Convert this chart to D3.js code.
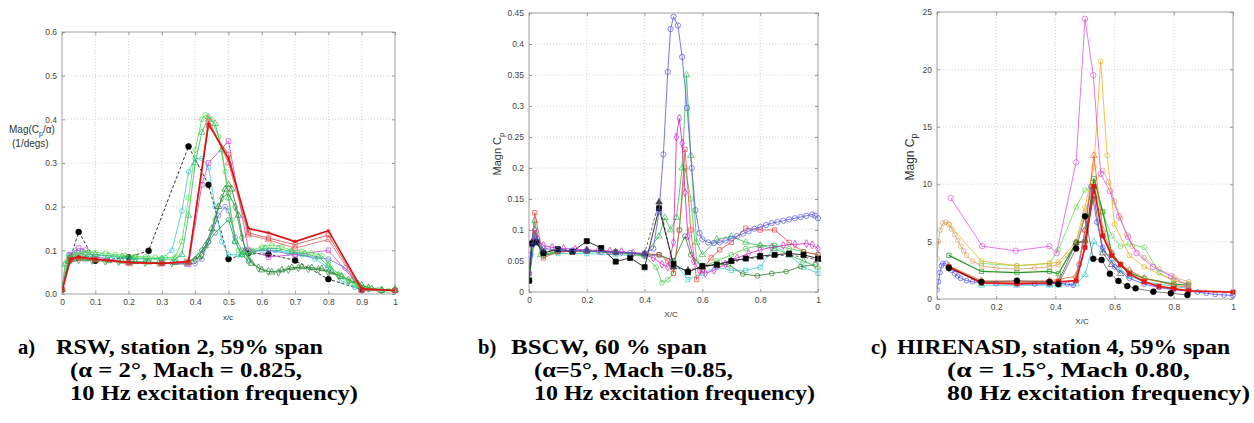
<!DOCTYPE html>
<html lang="en">
<head>
<meta charset="UTF-8">
<title>Cp magnitude</title>
<style>
  body { margin: 0; background: #fff; }
  .tick text { font-family: "Liberation Sans", Arial, sans-serif; font-size: 8.5px; fill: #444; }
  .cap { font-family: "Liberation Serif", "Times New Roman", serif; font-weight: bold; font-size: 20.5px; fill: #000; }
  .lab { font-family: "Liberation Sans", Arial, sans-serif; fill: #333; }
</style>
</head>
<body>
<svg id="svg" width="1254" height="423"></svg>
<script src="https://d3js.org/d3.v7.min.js"></script>
<script>
// tick values
const ticksA_x = [0, 0.1, 0.2, 0.3, 0.4, 0.5, 0.6, 0.7, 0.8, 0.9, 1]
const ticksA_y = [0, 0.1, 0.2, 0.3, 0.4, 0.5, 0.6]
const ticksB_x = [0, 0.2, 0.4, 0.6, 0.8, 1]
const ticksB_y = [0, 0.05, 0.1, 0.15, 0.2, 0.25, 0.3, 0.35, 0.4, 0.45]
const ticksC_x = [0, 0.2, 0.4, 0.6, 0.8, 1]
const ticksC_y = [0, 5, 10, 15, 20, 25]

// a) RSW
const rswBlack = [[0,0.01],[0.025,0.082],[0.05,0.142],[0.1,0.076],[0.2,0.084],[0.26,0.099],[0.38,0.338],[0.44,0.25],[0.5,0.08],[0.56,0.094],[0.62,0.091],[0.7,0.077],[0.8,0.034],[0.9,0.01]]
const rswRed1 = [[0,0.005],[0.025,0.08],[0.05,0.085],[0.1,0.08],[0.2,0.072],[0.3,0.07],[0.38,0.075],[0.44,0.39],[0.5,0.31],[0.56,0.15],[0.62,0.14],[0.7,0.12],[0.8,0.145],[0.9,0.012],[1,0.008]]
const rswRed2 = [[0,0.01],[0.025,0.078],[0.05,0.082],[0.1,0.078],[0.2,0.071],[0.3,0.07],[0.38,0.073],[0.44,0.385],[0.5,0.32],[0.56,0.14],[0.62,0.128],[0.7,0.113],[0.8,0.135],[0.9,0.01],[1,0.008]]
const rswRed3 = [[0,0.01],[0.025,0.08],[0.05,0.084],[0.1,0.079],[0.2,0.072],[0.3,0.07],[0.38,0.072],[0.44,0.4],[0.5,0.3],[0.56,0.135],[0.62,0.124],[0.7,0.105],[0.8,0.125],[0.9,0.008],[1,0.008]]
const rswMagenta = [[0,0.01],[0.025,0.09],[0.05,0.105],[0.07,0.1],[0.1,0.085],[0.2,0.072],[0.3,0.07],[0.38,0.068],[0.42,0.25],[0.44,0.3],[0.5,0.35],[0.56,0.1],[0.62,0.085],[0.7,0.09],[0.8,0.1],[0.9,0.012],[1,0.008]]
const rswPurple = [[0,0.01],[0.025,0.088],[0.05,0.095],[0.1,0.08],[0.2,0.072],[0.3,0.07],[0.38,0.07],[0.4,0.07],[0.42,0.08],[0.44,0.12],[0.47,0.18],[0.49,0.2],[0.5,0.19],[0.52,0.13],[0.54,0.1],[0.56,0.1],[0.62,0.1],[0.7,0.09],[0.8,0.08],[0.85,0.06],[0.9,0.015],[1,0.008]]
const rswGreen = [[0,0.01],[0.01,0.07],[0.02,0.085],[0.04,0.09],[0.06,0.095],[0.08,0.096],[0.1,0.095],[0.13,0.093],[0.16,0.09],[0.19,0.088],[0.22,0.086],[0.25,0.085],[0.28,0.084],[0.31,0.083],[0.34,0.085],[0.36,0.12],[0.38,0.22],[0.4,0.33],[0.42,0.4],[0.43,0.41],[0.45,0.4],[0.47,0.36],[0.49,0.28],[0.51,0.17],[0.53,0.1],[0.55,0.09],[0.57,0.1],[0.6,0.108],[0.63,0.112],[0.66,0.108],[0.69,0.1],[0.72,0.098],[0.75,0.094],[0.78,0.088],[0.8,0.07],[0.83,0.045],[0.86,0.03],[0.89,0.02],[0.92,0.014],[0.95,0.01],[0.98,0.008],[1,0.01]]
const rswGreen2 = [[0,0.01],[0.01,0.068],[0.02,0.082],[0.04,0.088],[0.07,0.09],[0.1,0.09],[0.14,0.088],[0.18,0.086],[0.22,0.083],[0.26,0.081],[0.3,0.08],[0.34,0.08],[0.36,0.09],[0.38,0.18],[0.4,0.3],[0.42,0.37],[0.44,0.405],[0.46,0.39],[0.48,0.33],[0.5,0.22],[0.52,0.12],[0.54,0.09],[0.57,0.095],[0.61,0.105],[0.65,0.104],[0.69,0.097],[0.73,0.092],[0.77,0.085],[0.8,0.065],[0.84,0.04],[0.88,0.022],[0.92,0.012],[0.96,0.009],[1,0.01]]
const rswCyan = [[0,0.01],[0.02,0.09],[0.04,0.1],[0.06,0.098],[0.09,0.09],[0.12,0.088],[0.16,0.085],[0.2,0.082],[0.25,0.08],[0.3,0.082],[0.33,0.1],[0.36,0.19],[0.38,0.28],[0.4,0.31],[0.42,0.31],[0.44,0.29],[0.46,0.2],[0.48,0.12],[0.5,0.09],[0.53,0.09],[0.56,0.095],[0.6,0.1],[0.64,0.1],[0.68,0.095],[0.72,0.09],[0.76,0.08],[0.8,0.06],[0.84,0.03],[0.88,0.015],[0.92,0.01],[0.96,0.008],[1,0.01]]
const rswDkGreen = [[0,0.01],[0.02,0.075],[0.04,0.08],[0.07,0.08],[0.1,0.078],[0.14,0.076],[0.18,0.075],[0.22,0.074],[0.26,0.073],[0.3,0.072],[0.34,0.072],[0.38,0.074],[0.41,0.085],[0.43,0.11],[0.45,0.15],[0.47,0.2],[0.49,0.24],[0.5,0.25],[0.51,0.24],[0.53,0.18],[0.55,0.1],[0.57,0.07],[0.6,0.055],[0.63,0.05],[0.66,0.055],[0.69,0.06],[0.72,0.062],[0.75,0.06],[0.78,0.058],[0.81,0.05],[0.84,0.04],[0.87,0.03],[0.9,0.02],[0.93,0.012],[0.96,0.008],[1,0.01]]
const rswDkGreen2 = [[0,0.01],[0.02,0.072],[0.05,0.078],[0.09,0.077],[0.13,0.075],[0.17,0.074],[0.21,0.073],[0.25,0.072],[0.29,0.071],[0.33,0.071],[0.37,0.072],[0.4,0.078],[0.42,0.09],[0.44,0.12],[0.46,0.17],[0.48,0.22],[0.5,0.23],[0.52,0.2],[0.54,0.13],[0.56,0.08],[0.59,0.06],[0.62,0.052],[0.65,0.05],[0.68,0.056],[0.71,0.06],[0.74,0.058],[0.77,0.056],[0.8,0.05],[0.83,0.042],[0.86,0.032],[0.89,0.022],[0.92,0.014],[0.96,0.008],[1,0.01]]
const rswTeal = [[0.38,0.072],[0.42,0.1],[0.46,0.14],[0.5,0.17],[0.52,0.12],[0.54,0.09],[0.56,0.075]]

// b) BSCW
const bscwBlue = [[0,0.03],[0.005,0.06],[0.01,0.075],[0.02,0.09],[0.03,0.08],[0.05,0.07],[0.1,0.068],[0.15,0.067],[0.2,0.066],[0.25,0.065],[0.3,0.064],[0.35,0.063],[0.4,0.062],[0.43,0.07],[0.45,0.13],[0.465,0.222],[0.48,0.355],[0.49,0.424],[0.5,0.444],[0.515,0.43],[0.53,0.379],[0.547,0.297],[0.563,0.2],[0.576,0.132],[0.59,0.095],[0.6,0.085],[0.62,0.08],[0.64,0.079],[0.66,0.08],[0.68,0.083],[0.7,0.086],[0.72,0.09],[0.74,0.094],[0.76,0.098],[0.78,0.102],[0.8,0.105],[0.82,0.108],[0.84,0.111],[0.86,0.113],[0.88,0.115],[0.9,0.117],[0.92,0.119],[0.94,0.121],[0.96,0.123],[0.98,0.125],[0.99,0.123],[1,0.119]]
const bscwBlack = [[0,0.018],[0.01,0.078],[0.025,0.08],[0.05,0.063],[0.1,0.069],[0.15,0.065],[0.2,0.082],[0.25,0.071],[0.3,0.049],[0.35,0.055],[0.4,0.04],[0.45,0.135],[0.5,0.045],[0.55,0.032],[0.6,0.042],[0.65,0.044],[0.7,0.05],[0.75,0.054],[0.8,0.058],[0.85,0.06],[0.9,0.062],[0.95,0.06],[1,0.054]]
const bscwBlack2 = [[0,0.02],[0.01,0.08],[0.025,0.082],[0.05,0.065],[0.1,0.068],[0.2,0.067],[0.3,0.064],[0.4,0.062],[0.45,0.145],[0.5,0.04],[0.55,0.035],[0.6,0.04],[0.7,0.05],[0.8,0.056],[0.9,0.06],[1,0.052]]
const bscwMagenta = [[0,0.03],[0.01,0.08],[0.02,0.1],[0.03,0.085],[0.05,0.075],[0.08,0.072],[0.12,0.07],[0.16,0.069],[0.2,0.068],[0.24,0.067],[0.28,0.066],[0.32,0.065],[0.36,0.063],[0.4,0.06],[0.43,0.055],[0.46,0.045],[0.48,0.04],[0.5,0.08],[0.51,0.25],[0.52,0.28],[0.53,0.24],[0.54,0.16],[0.55,0.09],[0.57,0.05],[0.59,0.035],[0.61,0.03],[0.64,0.035],[0.68,0.045],[0.72,0.055],[0.76,0.062],[0.8,0.068],[0.84,0.072],[0.88,0.075],[0.92,0.077],[0.96,0.078],[0.98,0.076],[1,0.07]]
const bscwGreen = [[0,0.025],[0.02,0.115],[0.04,0.06],[0.1,0.066],[0.2,0.066],[0.3,0.064],[0.4,0.06],[0.45,0.09],[0.47,0.12],[0.49,0.1],[0.51,0.12],[0.53,0.2],[0.545,0.35],[0.56,0.22],[0.58,0.08],[0.6,0.06],[0.65,0.085],[0.7,0.09],[0.75,0.08],[0.8,0.075],[0.85,0.07],[0.9,0.06],[0.95,0.05],[1,0.04]]
const bscwGreen2 = [[0,0.02],[0.02,0.1],[0.05,0.06],[0.1,0.065],[0.2,0.065],[0.3,0.063],[0.4,0.058],[0.44,0.04],[0.46,0.015],[0.48,0.02],[0.5,0.03],[0.52,0.1],[0.54,0.2],[0.56,0.15],[0.58,0.05],[0.6,0.04],[0.65,0.05],[0.7,0.06],[0.75,0.07],[0.8,0.075],[0.85,0.075],[0.9,0.07],[0.95,0.065],[1,0.06]]
const bscwRed = [[0,0.03],[0.02,0.128],[0.05,0.055],[0.1,0.065],[0.2,0.066],[0.3,0.065],[0.4,0.062],[0.45,0.06],[0.48,0.05],[0.5,0.03],[0.52,0.1],[0.54,0.23],[0.56,0.1],[0.58,0.02],[0.6,0.035],[0.63,0.055],[0.66,0.068],[0.7,0.08],[0.75,0.103],[0.8,0.1],[0.85,0.1],[0.9,0.08],[0.95,0.065],[1,0.06]]
const bscwDkGreen = [[0,0.02],[0.02,0.095],[0.05,0.058],[0.1,0.065],[0.2,0.066],[0.3,0.064],[0.4,0.06],[0.45,0.06],[0.5,0.05],[0.54,0.09],[0.56,0.06],[0.6,0.04],[0.65,0.045],[0.69,0.044],[0.74,0.029],[0.79,0.026],[0.84,0.03],[0.89,0.033],[0.94,0.041],[0.99,0.044]]
const bscwCyan = [[0,0.02],[0.02,0.085],[0.05,0.06],[0.1,0.062],[0.2,0.062],[0.3,0.06],[0.4,0.058],[0.45,0.06],[0.5,0.05],[0.55,0.02],[0.6,0.03],[0.65,0.04],[0.7,0.035],[0.75,0.035],[0.8,0.04],[0.85,0.075],[0.9,0.06],[0.95,0.04],[1,0.03]]

// c) HIRENASD
const hirMagenta = [[0.046,8.8],[0.153,4.6],[0.266,4.2],[0.38,4.6],[0.404,4.0],[0.47,11.9],[0.5,24.4],[0.528,19.5],[0.553,10.9],[0.584,9.4],[0.615,7.2],[0.646,5.4],[0.674,4.0],[0.73,2.8],[0.79,2.0],[0.846,1.2]]
const hirTan = [[0,3.5],[0.005,5],[0.01,6],[0.02,6.6],[0.03,6.7],[0.04,6.5],[0.05,6.1],[0.06,5.6],[0.07,5.1],[0.08,4.6],[0.09,4.2],[0.1,3.8],[0.12,3.3],[0.15,2.9],[0.2,2.7],[0.27,2.6],[0.33,2.7],[0.38,2.8],[0.41,3.0],[0.44,3.8],[0.47,4.8],[0.5,7.5],[0.53,10],[0.56,11.2],[0.58,10.2],[0.6,8.5],[0.62,7.0],[0.64,5.6],[0.66,4.6],[0.7,3.6],[0.75,2.6],[0.8,1.9],[0.85,1.5]]
const hirYellow = [[0.04,6.5],[0.15,3.3],[0.27,2.9],[0.38,3.1],[0.41,3.2],[0.47,5],[0.5,8],[0.53,11.5],[0.553,20.7],[0.575,12.5],[0.6,6.5],[0.65,3.8],[0.7,2.8],[0.8,1.6],[0.85,1.3]]
const hirGreen = [[0.15,3.1],[0.27,2.9],[0.38,3.1],[0.41,4.3],[0.47,8.0],[0.5,9.5],[0.53,9.8],[0.56,7.5],[0.59,5.5],[0.62,4.6],[0.65,4.8],[0.7,4.5],[0.75,2.3],[0.8,1.6],[0.85,1.3]]
const hirDkGreen = [[0.04,3.8],[0.15,2.4],[0.27,2.3],[0.38,2.4],[0.41,2.2],[0.47,4.9],[0.5,5.0],[0.53,10.5],[0.56,7.6],[0.59,4.0],[0.62,3.0],[0.65,2.3],[0.7,1.8],[0.8,1.3],[0.85,1.2]]
const hirBlue = [[0,0.8],[0.005,1.5],[0.01,2.3],[0.015,2.9],[0.02,3.1],[0.03,3.1],[0.04,2.8],[0.05,2.5],[0.06,2.2],[0.07,2.0],[0.08,1.8],[0.1,1.6],[0.12,1.5],[0.15,1.4],[0.2,1.35],[0.27,1.3],[0.33,1.3],[0.38,1.3],[0.41,1.4],[0.44,1.3],[0.46,1.2],[0.48,3],[0.5,6.0],[0.52,9.8],[0.54,6.7],[0.56,4.5],[0.6,2.8],[0.65,1.8],[0.7,1.3],[0.75,1.0],[0.8,0.8],[0.85,0.7],[0.88,0.6],[0.91,0.5],[0.94,0.4],[0.97,0.35],[1,0.3]]
const hirBlack = [[0.04,2.7],[0.15,1.5],[0.27,1.6],[0.38,1.5],[0.41,1.3],[0.47,4.4],[0.5,7.2],[0.528,3.5],[0.556,3.4],[0.584,2.2],[0.613,1.57],[0.643,1.13],[0.671,0.93],[0.731,0.64],[0.79,0.5],[0.846,0.35]]
const hirRed = [[0.04,2.8],[0.15,1.4],[0.27,1.35],[0.38,1.4],[0.41,1.5],[0.47,1.6],[0.5,4.5],[0.53,9.8],[0.56,5.5],[0.59,3.8],[0.62,3.0],[0.65,2.2],[0.7,1.5],[0.75,1.1],[0.8,0.9],[0.85,0.7],[1,0.6]]
const hirOrange = [[0.04,2.9],[0.15,1.6],[0.27,1.5],[0.38,1.6],[0.41,1.7],[0.47,2.0],[0.5,6],[0.53,12.5],[0.56,6],[0.59,4],[0.62,3],[0.65,2.5],[0.7,1.8],[0.8,1.2],[0.85,1.0]]
const hirCyan = [[0.15,1.2],[0.27,1.2],[0.38,1.2],[0.41,1.2],[0.47,1.3],[0.5,2.1],[0.53,5.0],[0.56,4.3],[0.59,3.5],[0.62,2.5],[0.65,2.0],[0.7,1.5],[0.8,1.1],[0.85,0.9]]
const hirGray = [[0.41,1.5],[0.47,4.9],[0.5,5.1],[0.53,9],[0.56,4],[0.59,3],[0.62,2.2]]

// caption text
const capA = ["a)", "RSW, station 2, 59% span", "(α = 2°, Mach = 0.825,", "10 Hz excitation frequency)"]
const capB = ["b)", "BSCW, 60 % span", "(α=5°, Mach =0.85,", "10 Hz excitation frequency)"]
const capC = ["c)", "HIRENASD, station 4, 59% span", "(α = 1.5°, Mach 0.80,", "80 Hz excitation frequency)"]

const svg = d3.select("#svg")

// 画一个子图
function panel(box, xTicks, yTicks, yMax, xFmt, yFmt, series) {
    const x = d3.scaleLinear().domain([0, 1]).range([box.left, box.right])
    const y = d3.scaleLinear().domain([0, yMax]).range([box.bottom, box.top])
    const g = svg.append("g")

    // grid
    g.append("g").selectAll("line").data(xTicks.slice(1, -1)).join("line")
        .attr("x1", d => x(d)).attr("x2", d => x(d)).attr("y1", box.top).attr("y2", box.bottom)
        .attr("stroke", "#c8c8c8").attr("stroke-width", 0.8).attr("stroke-dasharray", "1,2")
    g.append("g").selectAll("line").data(yTicks.slice(1, -1)).join("line")
        .attr("y1", d => y(d)).attr("y2", d => y(d)).attr("x1", box.left).attr("x2", box.right)
        .attr("stroke", "#c8c8c8").attr("stroke-width", 0.8).attr("stroke-dasharray", "1,2")

    const clip = "clip" + box.left
    g.append("clipPath").attr("id", clip).append("rect")
        .attr("x", box.left).attr("y", box.top - 4).attr("width", box.right - box.left + 4).attr("height", box.bottom - box.top + 4)

    const line = d3.line().x(d => x(d[0])).y(d => y(d[1]))
    const plot = g.append("g").attr("clip-path", `url(#${clip})`)
    series.forEach(s => {
        plot.append("path").datum(s.data)
            .attr("fill", "none").attr("stroke", s.color)
            .attr("stroke-width", s.width || 0.8)
            .attr("stroke-dasharray", s.dash || null)
            .attr("d", line)
        const sym = d3.symbol().type(s.sym || d3.symbolCircle).size(s.size || 18)
        plot.append("g").selectAll("path").data(s.data).join("path")
            .attr("transform", d => `translate(${x(d[0])},${y(d[1])})`)
            .attr("d", sym)
            .attr("fill", s.filled ? s.color : "none")
            .attr("stroke", s.color).attr("stroke-width", 0.7)
    })

    // axes
    const ax = (a, t) => a.tickValues(t).tickSizeInner(-3).tickSizeOuter(0).tickPadding(5)
    g.append("g").attr("transform", `translate(0,${box.bottom})`).call(ax(d3.axisBottom(x), xTicks).tickFormat(xFmt))
    g.append("g").attr("transform", `translate(${box.left},0)`).call(ax(d3.axisLeft(y), yTicks).tickFormat(yFmt))
    g.append("g").attr("transform", `translate(0,${box.top})`).call(ax(d3.axisTop(x), xTicks).tickFormat(""))
    g.append("g").attr("transform", `translate(${box.right},0)`).call(ax(d3.axisRight(y), yTicks).tickFormat(""))
    g.selectAll(".domain").remove()
    g.selectAll(".tick line").attr("stroke", "#777").attr("stroke-width", 0.7)
    g.append("rect").attr("x", box.left).attr("y", box.top)
        .attr("width", box.right - box.left).attr("height", box.bottom - box.top)
        .attr("fill", "none").attr("stroke", "#888").attr("stroke-width", 0.8)
    return g
}

const fmtX = d => d === 0 ? "0" : d === 1 ? "1" : d3.format(".1f")(d)

// a) RSW
const gA = panel({ left: 62, right: 395, top: 32, bottom: 294 }, ticksA_x, ticksA_y, 0.6,
    fmtX, d3.format(".1f"), [
    { data: rswBlack, color: "#000", dash: "3,2", sym: d3.symbolCircle, filled: true, size: 26 },
    { data: rswCyan, color: "#33cccc", sym: d3.symbolCircle },
    { data: rswPurple, color: "#7070e0", sym: d3.symbolCircle },
    { data: rswMagenta, color: "#cc44cc", sym: d3.symbolSquare, size: 22 },
    { data: rswDkGreen, color: "#1f7a2a", sym: d3.symbolTriangle },
    { data: rswDkGreen2, color: "#2c8c3c", sym: d3.symbolDiamond },
    { data: rswTeal, color: "#1a9a6a", sym: d3.symbolCircle },
    { data: rswGreen2, color: "#22bb66", sym: d3.symbolTriangle },
    { data: rswGreen, color: "#55dd44", sym: d3.symbolCircle },
    { data: rswRed3, color: "#e06060", sym: d3.symbolTriangle },
    { data: rswRed2, color: "#d84040", sym: d3.symbolSquare },
    { data: rswRed1, color: "#dd1111", width: 1.6, sym: d3.symbolCircle, size: 6 }
])
gA.append("text").attr("class", "lab").attr("x", 9).attr("y", 133).attr("font-size", 10)
    .html('Mag(C<tspan dy="3" font-size="7">p</tspan><tspan dy="-3">/α)</tspan>')
gA.append("text").attr("class", "lab").attr("x", 12).attr("y", 147).attr("font-size", 10).text("(1/degs)")
gA.append("text").attr("class", "lab").attr("x", 228).attr("y", 320).attr("font-size", 8)
    .attr("text-anchor", "middle").text("x/c")

// b) BSCW
const gB = panel({ left: 529, right: 818, top: 13, bottom: 292 }, ticksB_x, ticksB_y, 0.45,
    fmtX, d => d === 0 ? "0" : d3.format("~g")(d), [
    { data: bscwCyan, color: "#33d0d0", sym: d3.symbolSquare },
    { data: bscwDkGreen, color: "#2a7a2a", sym: d3.symbolCircle },
    { data: bscwGreen2, color: "#44cc44", sym: d3.symbolCircle },
    { data: bscwGreen, color: "#33bb55", sym: d3.symbolTriangle },
    { data: bscwRed, color: "#ee4444", sym: d3.symbolSquare },
    { data: bscwMagenta, color: "#cc22cc", sym: d3.symbolDiamond },
    { data: bscwBlack2, color: "#444", dash: "3,2", sym: d3.symbolTriangle, filled: true },
    { data: bscwBlack, color: "#000", sym: d3.symbolSquare, filled: true, size: 26 },
    { data: bscwBlue, color: "#5555dd", sym: d3.symbolCircle, size: 22 }
])
gB.append("text").attr("class", "lab").attr("font-size", 11)
    .attr("transform", "translate(501,154) rotate(-90)").attr("text-anchor", "middle")
    .html('Magn C<tspan dy="3" font-size="8">p</tspan>')
gB.append("text").attr("class", "lab").attr("x", 671).attr("y", 317).attr("font-size", 8)
    .attr("text-anchor", "middle").text("X/C")

// c) HIRENASD
const gC = panel({ left: 937, right: 1233, top: 12, bottom: 299 }, ticksC_x, ticksC_y, 25,
    fmtX, d3.format("d"), [
    { data: hirCyan, color: "#33cccc", sym: d3.symbolTriangle },
    { data: hirTan, color: "#d8a070", sym: d3.symbolCircle },
    { data: hirGreen, color: "#66dd55", sym: d3.symbolCircle },
    { data: hirYellow, color: "#f0b020", sym: d3.symbolCircle },
    { data: hirDkGreen, color: "#229922", sym: d3.symbolSquare, width: 1.2 },
    { data: hirGray, color: "#555", sym: d3.symbolTriangle },
    { data: hirBlue, color: "#5050ee", sym: d3.symbolCircle },
    { data: hirOrange, color: "#ee6622", sym: d3.symbolTriangle },
    { data: hirMagenta, color: "#dd55dd", sym: d3.symbolCircle, size: 24 },
    { data: hirRed, color: "#e01818", sym: d3.symbolSquare, width: 1.8, filled: true },
    { data: hirBlack, color: "#000", sym: d3.symbolCircle, filled: true, size: 26, width: 0.5 }
])
gC.append("text").attr("class", "lab").attr("font-size", 12)
    .attr("transform", "translate(914,157) rotate(-90)").attr("text-anchor", "middle")
    .html('Magn C<tspan dy="3" font-size="9">p</tspan>')
gC.append("text").attr("class", "lab").attr("x", 1082).attr("y", 324).attr("font-size", 8)
    .attr("text-anchor", "middle").text("X/C")

// captions: label x, first line start/end, 2nd-3rd line start, ends
function caption(lines, xl, x1, e1, x2, e2, e3) {
    const put = (t, x, y, len) => {
        const el = svg.append("text").attr("class", "cap").attr("x", x).attr("y", y).text(t)
        if (len) el.attr("textLength", len).attr("lengthAdjust", "spacingAndGlyphs")
    }
    put(lines[0], xl, 354)
    put(lines[1], x1, 354, e1 - x1)
    put(lines[2], x2, 377, e2 - x2)
    put(lines[3], x2, 400, e3 - x2)
}
caption(capA, 18, 56, 323, 70, 302, 358)
caption(capB, 478, 511, 707, 534, 733, 815)
caption(capC, 871, 897, 1230, 947, 1190, 1250)
</script>
</body>
</html>
